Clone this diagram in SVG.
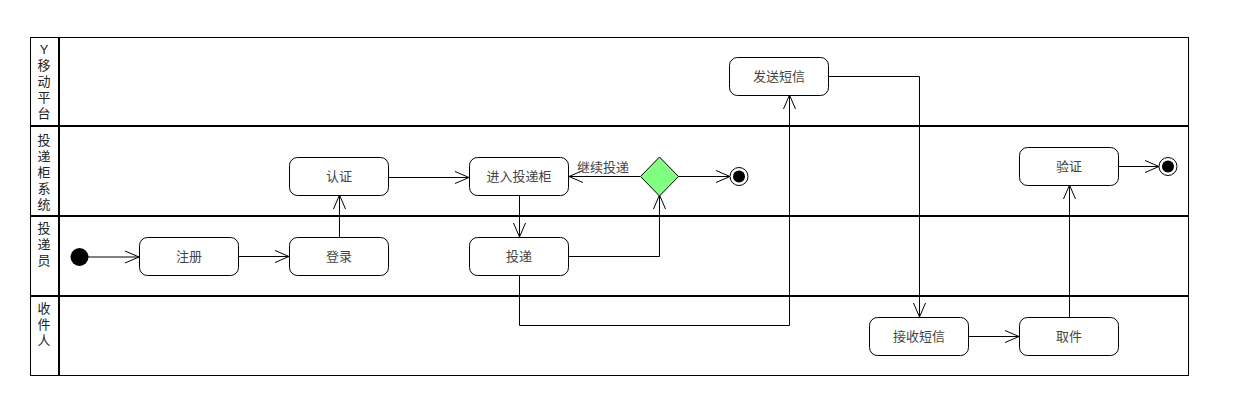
<svg xmlns="http://www.w3.org/2000/svg" width="1251" height="408" viewBox="0 0 1251 408">
<defs>
<style>
.lane{fill:none;stroke:#000;stroke-width:1}
.div{stroke:#000;stroke-width:2}
.hdr{font-family:"Liberation Sans","Noto Sans CJK SC",sans-serif;font-size:13px;fill:#222;text-anchor:middle}
.node rect{fill:#fff;stroke:#000;stroke-width:1}
.node text{font-family:"Liberation Sans","Noto Sans CJK SC",sans-serif;font-size:13px;fill:#444;text-anchor:middle;dominant-baseline:central}
.conn{fill:none;stroke:#000;stroke-width:1;marker-end:url(#arr)}
.lbl{font-family:"Liberation Sans","Noto Sans CJK SC",sans-serif;font-size:13px;fill:#444}
</style>
<marker id="arr" viewBox="0 0 16 14" refX="15" refY="7" markerWidth="16" markerHeight="14" markerUnits="userSpaceOnUse" orient="auto">
<path d="M1,1 L15,7 L1,13" fill="none" stroke="#000" stroke-width="1"/>
</marker>
</defs>
<rect width="1251" height="408" fill="#fff"/>
<g id="swimlanes">
<rect class="lane" x="30.5" y="37.5" width="1158" height="338"/>
<line class="div" x1="59" y1="37" x2="59" y2="376"/>
<line class="div" x1="30" y1="126" x2="1189" y2="126"/>
<line class="div" x1="30" y1="216" x2="1189" y2="216"/>
<line class="div" x1="30" y1="296" x2="1189" y2="296"/>
<text class="hdr"><tspan x="44" y="54">Y</tspan><tspan x="44" y="70">移</tspan><tspan x="44" y="86">动</tspan><tspan x="44" y="102">平</tspan><tspan x="44" y="118">台</tspan></text>
<text class="hdr"><tspan x="44" y="145">投</tspan><tspan x="44" y="161">递</tspan><tspan x="44" y="177">柜</tspan><tspan x="44" y="193">系</tspan><tspan x="44" y="209">统</tspan></text>
<text class="hdr"><tspan x="44" y="233">投</tspan><tspan x="44" y="249">递</tspan><tspan x="44" y="265">员</tspan></text>
<text class="hdr"><tspan x="44" y="313">收</tspan><tspan x="44" y="329">件</tspan><tspan x="44" y="345">人</tspan></text>
</g>
<g id="connectors">
<path class="conn" d="M88,257 H139"/>
<path class="conn" d="M238,256.5 H289"/>
<path class="conn" d="M339.5,237 V195"/>
<path class="conn" d="M388,177.5 H469"/>
<path class="conn" d="M519.5,195 V237"/>
<path class="conn" d="M568,256.5 H659.5 V195"/>
<path class="conn" d="M640,176.5 H569"/>
<text class="lbl" x="577" y="172">继续投递</text>
<path class="conn" d="M678,176.5 H730"/>
<path class="conn" d="M519.5,275 V325.5 H789.5 V95"/>
<path class="conn" d="M828,76.5 H919.5 V317"/>
<path class="conn" d="M968,336.5 H1019"/>
<path class="conn" d="M1069.5,317 V185"/>
<path class="conn" d="M1118,166.5 H1159"/>
</g>
<g id="start"><circle cx="79.5" cy="257" r="9" fill="#000"/></g>
<g id="n-zhuce" class="node"><rect x="139.5" y="237.5" width="99" height="38" rx="8"/><text x="189" y="256.5">注册</text></g>
<g id="n-denglu" class="node"><rect x="289.5" y="237.5" width="99" height="38" rx="8"/><text x="339" y="256.5">登录</text></g>
<g id="n-renzheng" class="node"><rect x="289.5" y="157.5" width="99" height="38" rx="8"/><text x="339" y="176.5">认证</text></g>
<g id="n-jinru" class="node"><rect x="469.5" y="157.5" width="99" height="38" rx="8"/><text x="519" y="176.5">进入投递柜</text></g>
<g id="n-toudi" class="node"><rect x="469.5" y="237.5" width="99" height="38" rx="8"/><text x="519" y="256.5">投递</text></g>
<g id="n-fasong" class="node"><rect x="729.5" y="57.5" width="99" height="38" rx="8"/><text x="779" y="76.5">发送短信</text></g>
<g id="n-jieshou" class="node"><rect x="869.5" y="317.5" width="99" height="38" rx="8"/><text x="919" y="336.5">接收短信</text></g>
<g id="n-qujian" class="node"><rect x="1019.5" y="317.5" width="99" height="38" rx="8"/><text x="1069" y="336.5">取件</text></g>
<g id="n-yanzheng" class="node"><rect x="1019.5" y="147.5" width="99" height="38" rx="8"/><text x="1069" y="166.5">验证</text></g>
<g id="decision"><polygon points="659.5,157 678.5,176.5 659.5,196 640.5,176.5" fill="#80ff80" stroke="#000" stroke-width="1"/></g>
<g id="end1"><circle cx="739" cy="176.5" r="9" fill="#fff" stroke="#000"/><circle cx="739" cy="176.5" r="6" fill="#000"/></g>
<g id="end2"><circle cx="1168" cy="166.5" r="9" fill="#fff" stroke="#000"/><circle cx="1168" cy="166.5" r="6" fill="#000"/></g>
</svg>
